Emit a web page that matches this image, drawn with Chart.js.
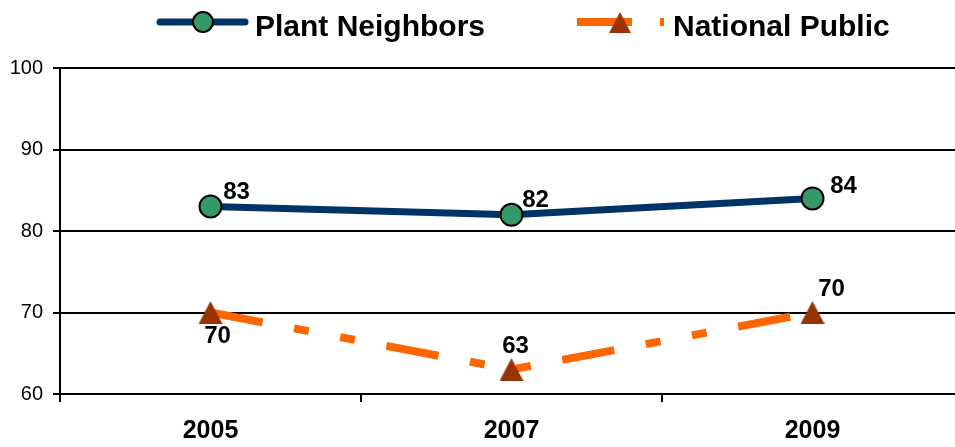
<!DOCTYPE html>
<html>
<head>
<meta charset="utf-8">
<script src="https://cdn.jsdelivr.net/npm/chart.js@4.4.1/dist/chart.umd.min.js"></script>
<style>
  html, body { margin: 0; padding: 0; background: #fff; overflow: hidden; }
  #chart { display: block; }
</style>
</head>
<body>
<canvas id="chart" width="975" height="447"></canvas>
<script>
// ----------------------------------------------------
// Données
// ----------------------------------------------------
const years = ["2005", "2007", "2009"];
const plantNeighbors = [83, 82, 84];
const nationalPublic = [70, 63, 70];
const seriesNames = ["Plant Neighbors", "National Public"];
const yMin = 60, yMax = 100, yStep = 10;

const FONT = "'Liberation Sans', Arial, sans-serif";
const BLUE = "#003366", GREEN = "#339966", ORANGE = "#FF6600", BROWN = "#993300";

// triangle marker as an image (centered on the point)
function makeTriangle(w, h) {
  const c = document.createElement("canvas");
  c.width = w; c.height = h;
  const g = c.getContext("2d");
  g.fillStyle = BROWN;
  g.beginPath();
  g.moveTo(w / 2, 0);
  g.lineTo(w, h);
  g.lineTo(0, h);
  g.closePath();
  g.fill();
  return c;
}
const tri = makeTriangle(24, 23);

// label offsets (px) from each point, per series
const labelOffsets = [
  [[26, -14], [24, -14], [31, -12]],
  [[7, 24], [4, -23], [19, -23]]
];

// ----------------------------------------------------
// Plugins
// ----------------------------------------------------
const valueLabels = {
  id: "valueLabels",
  afterDatasetsDraw(chart) {
    const ctx = chart.ctx;
    ctx.save();
    ctx.font = "bold 24px " + FONT;
    ctx.fillStyle = "#000";
    ctx.textAlign = "center";
    ctx.textBaseline = "middle";
    chart.data.datasets.forEach((ds, i) => {
      chart.getDatasetMeta(i).data.forEach((pt, j) => {
        const o = labelOffsets[i][j];
        ctx.fillText(String(ds.data[j]), pt.x + o[0], pt.y + o[1]);
      });
    });
    ctx.restore();
  }
};

const topLegend = {
  id: "topLegend",
  afterDraw(chart) {
    const ctx = chart.ctx;
    ctx.save();
    // Plant Neighbors
    ctx.lineCap = "round";
    ctx.strokeStyle = BLUE;
    ctx.lineWidth = 7;
    ctx.beginPath(); ctx.moveTo(160, 22); ctx.lineTo(245, 22); ctx.stroke();
    ctx.beginPath(); ctx.arc(203, 22, 10, 0, Math.PI * 2);
    ctx.fillStyle = GREEN; ctx.fill();
    ctx.lineWidth = 2; ctx.strokeStyle = "#000"; ctx.stroke();
    // National Public
    ctx.lineCap = "butt";
    ctx.strokeStyle = ORANGE;
    ctx.lineWidth = 8;
    ctx.beginPath();
    ctx.moveTo(577, 22); ctx.lineTo(632, 22);
    ctx.moveTo(660, 22); ctx.lineTo(664, 22);
    ctx.stroke();
    ctx.drawImage(tri, 609, 12, 22, 21);
    // textes
    ctx.font = "bold 30px " + FONT;
    ctx.fillStyle = "#000";
    ctx.textAlign = "left";
    ctx.textBaseline = "middle";
    ctx.fillText(seriesNames[0], 255, 28);
    ctx.fillText(seriesNames[1], 673, 28);
    ctx.restore();
  }
};

// ----------------------------------------------------
// Chart
// ----------------------------------------------------
new Chart(document.getElementById("chart"), {
  type: "line",
  data: {
    labels: years,
    datasets: [
      {
        label: seriesNames[0],
        data: plantNeighbors,
        borderColor: BLUE,
        borderWidth: 7,
        borderJoinStyle: "round",
        pointStyle: "circle",
        pointRadius: 11,
        pointBackgroundColor: GREEN,
        pointBorderColor: "#000",
        pointBorderWidth: 2,
        tension: 0,
        fill: false
      },
      {
        label: seriesNames[1],
        data: nationalPublic,
        borderColor: ORANGE,
        borderWidth: 8,
        borderDash: [53, 32, 15, 32, 15, 32],
        borderCapStyle: "butt",
        pointStyle: tri,
        pointRadius: 12,
        tension: 0,
        fill: false
      }
    ]
  },
  options: {
    responsive: false,
    animation: false,
    devicePixelRatio: 1,
    // pas de marge automatique pour les marqueurs
    layout: { autoPadding: false, padding: { top: 68, right: 12, left: 0, bottom: 0 } },
    plugins: {
      legend: { display: false },
      tooltip: { enabled: false }
    },
    scales: {
      x: {
        type: "category",
        offset: true,
        grid: {
          offset: true,
          drawOnChartArea: false,
          drawTicks: true,
          tickLength: 8,
          color: "#000",
          lineWidth: 2
        },
        border: { color: "#000", width: 2 },
        ticks: {
          color: "#000",
          padding: 14,
          maxRotation: 0,
          font: { family: FONT, size: 25, weight: "bold" }
        },
        afterFit(s) {
          s.height = 53;
          s.paddingLeft = 0;
          s.paddingRight = 0;
        }
      },
      y: {
        min: yMin,
        max: yMax,
        grid: { color: "#000", lineWidth: 2, tickLength: 7 },
        border: { color: "#000", width: 2 },
        ticks: {
          stepSize: yStep,
          color: "#000",
          padding: 10,
          font: { family: FONT, size: 20 }
        },
        afterFit(s) { s.width = 60; }
      }
    }
  },
  plugins: [valueLabels, topLegend]
});
</script>
</body>
</html>
